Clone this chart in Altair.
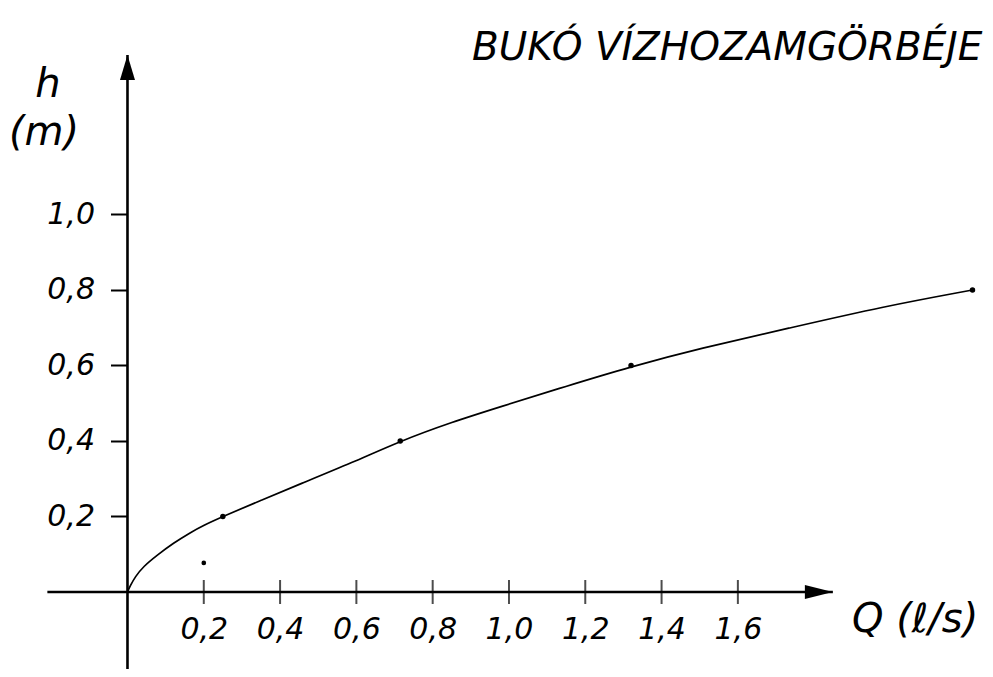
import altair as alt
import pandas as pd

# ---- data ----
curve_q = [0, 0.007, 0.02, 0.042, 0.077, 0.121, 0.164, 0.2, 0.25, 0.35, 0.45,
           0.59, 0.715, 0.85, 0.975, 1.15, 1.32, 1.5, 1.73, 1.98, 2.215]
curve_h = [0, 0.016, 0.04, 0.068, 0.097, 0.13, 0.157, 0.177, 0.2, 0.243, 0.285,
           0.343, 0.4, 0.45, 0.49, 0.545, 0.597, 0.645, 0.698, 0.756, 0.8]
mark_q = [0.25, 0.715, 1.32, 2.215]
mark_h = [0.2, 0.4, 0.6, 0.8]
stray_q = [0.2]
stray_h = [0.077]
x_ticks = [0.2, 0.4, 0.6, 0.8, 1.0, 1.2, 1.4, 1.6]
y_ticks = [0.2, 0.4, 0.6, 0.8, 1.0]
x_axis_span = [-0.21, 1.849]
y_axis_span = [-0.21, 1.4225]
title_text = "BUKÓ VÍZHOZAMGÖRBÉJE"
y_label_1 = "h"
y_label_2 = "(m)"
x_label = "Q (ℓ/s)"

X_DOMAIN = [-0.3132, 2.2478]
Y_DOMAIN = [-0.204, 1.547]

FONT = "DejaVu Sans"
xs = alt.Scale(domain=X_DOMAIN, nice=False, zero=False)
ys = alt.Scale(domain=Y_DOMAIN, nice=False, zero=False)
label_expr = "replace(format(datum.value, '.1f'), '.', ',')"

curve_df = pd.DataFrame({"q": curve_q, "h": curve_h})
marks_df = pd.DataFrame({"q": mark_q, "h": mark_h})
stray_df = pd.DataFrame({"q": stray_q, "h": stray_h})
xt_df = pd.DataFrame({"q": x_ticks, "h": [0] * len(x_ticks)})
xaxis_df = pd.DataFrame({"q": [x_axis_span[0]], "q2": [x_axis_span[1]], "h": [0]})
yaxis_df = pd.DataFrame({"q": [0], "h": [y_axis_span[0]], "h2": [y_axis_span[1]]})
xarrow_df = pd.DataFrame({"q": [x_axis_span[1]], "h": [0]})
yarrow_df = pd.DataFrame({"q": [0], "h": [y_axis_span[1]]})

curve = alt.Chart(curve_df).mark_line(
    color="black", strokeWidth=1.7, interpolate="basis"
).encode(
    x=alt.X("q:Q", scale=xs, axis=alt.Axis(
        values=x_ticks, labelExpr=label_expr, offset=-77, ticks=False,
        domain=False, grid=False, title=None, labelPadding=22,
        labelFontSize=30, labelFont=FONT, labelFontStyle="italic",
        labelColor="black", labelFlush=False)),
    y=alt.Y("h:Q", scale=ys, axis=alt.Axis(
        values=y_ticks, labelExpr=label_expr, offset=-119.5, tickSize=17,
        tickWidth=2, tickColor="black", domain=False, grid=False, title=None,
        labelPadding=16, labelFontSize=30, labelFont=FONT,
        labelFontStyle="italic", labelColor="black", labelFlush=False)),
)

pts = alt.Chart(marks_df).mark_point(
    filled=True, color="black", size=30, opacity=1
).encode(x=alt.X("q:Q", scale=xs), y=alt.Y("h:Q", scale=ys))

stray = alt.Chart(stray_df).mark_point(
    filled=True, color="black", size=22, opacity=1
).encode(x=alt.X("q:Q", scale=xs), y=alt.Y("h:Q", scale=ys))

xticks = alt.Chart(xt_df).mark_tick(
    orient="vertical", color="black", thickness=2, size=24
).encode(x=alt.X("q:Q", scale=xs), y=alt.Y("h:Q", scale=ys))

xaxis = alt.Chart(xaxis_df).mark_rule(color="black", strokeWidth=2.6).encode(
    x=alt.X("q:Q", scale=xs), x2="q2", y=alt.Y("h:Q", scale=ys))
yaxis = alt.Chart(yaxis_df).mark_rule(color="black", strokeWidth=2.6).encode(
    x=alt.X("q:Q", scale=xs), y=alt.Y("h:Q", scale=ys), y2="h2")

xarrow = alt.Chart(xarrow_df).mark_point(
    shape="M-1,-0.5L-1,0.5L1,0Z", filled=True, color="black", size=784,
    opacity=1, xOffset=-14
).encode(x=alt.X("q:Q", scale=xs), y=alt.Y("h:Q", scale=ys))
yarrow = alt.Chart(yarrow_df).mark_point(
    shape="M-0.6,1L0.6,1L0,-1Z", filled=True, color="black", size=625,
    opacity=1, yOffset=12.5
).encode(x=alt.X("q:Q", scale=xs), y=alt.Y("h:Q", scale=ys))

txt = dict(font=FONT, fontStyle="italic", color="black")
title = alt.Chart(pd.DataFrame({"t": [title_text]})).mark_text(
    align="left", baseline="alphabetic", fontSize=39, **txt
).encode(x=alt.value(464), y=alt.value(52), text="t:N")
hlab = alt.Chart(pd.DataFrame({"t": [y_label_1]})).mark_text(
    align="center", baseline="alphabetic", fontSize=40, **txt
).encode(x=alt.value(40), y=alt.value(89), text="t:N")
mlab = alt.Chart(pd.DataFrame({"t": [y_label_2]})).mark_text(
    align="center", baseline="middle", fontSize=40, **txt
).encode(x=alt.value(36), y=alt.value(125), text="t:N")
qlab = alt.Chart(pd.DataFrame({"t": [x_label]})).mark_text(
    align="left", baseline="middle", fontSize=40, **txt
).encode(x=alt.value(844), y=alt.value(612), text="t:N")

chart = alt.layer(
    curve, xaxis, yaxis, xticks, xarrow, yarrow, pts, stray,
    title, hlab, mlab, qlab
).properties(
    width=977, height=661, autosize=alt.AutoSizeParams(type="none"), padding=0,
    background="white"
).configure_view(stroke=None)

chart.save("out.html", embed_options={"renderer": "svg", "actions": False})
